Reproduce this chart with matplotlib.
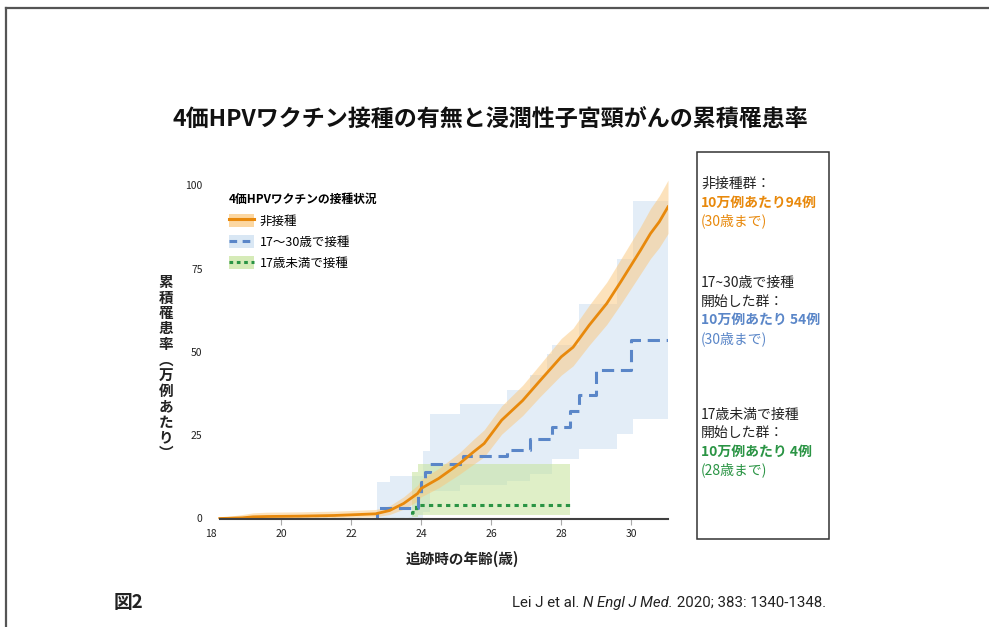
import matplotlib
matplotlib.use("Agg")
import matplotlib.pyplot as plt
from matplotlib.patches import Patch, Rectangle
from matplotlib.lines import Line2D
import numpy as np

plt.rcParams['font.family'] = ['Noto Sans CJK JP', 'DejaVu Sans']

# ---------------- data ----------------
title = "4価HPVワクチン接種の有無と浸潤性子宮頸がんの累積罹患率"
xlabel = "追跡時の年齢(歳)"
ylabel = "累積罹患率︵万例あたり︶"
xticks = [18, 20, 22, 24, 26, 28, 30]
yticks = [0, 25, 50, 75, 100]
legend_title = "4価HPVワクチンの接種状況"
legend_labels = ["非接種", "17〜30歳で接種", "17歳未満で接種"]

# non-vaccinated (orange)
orange_age = [18.25, 18.9, 19.2, 19.6, 20.5, 21.5, 22.0, 22.7, 23.1, 23.5, 23.9, 24.0,
              24.5, 25.1, 25.5, 25.8, 26.3, 26.9, 27.4, 28.0, 28.34, 28.8, 29.3, 29.7,
              30.26, 30.55, 30.8, 31.05]
orange_val = [0, 0.2, 0.5, 0.6, 0.7, 0.9, 1.1, 1.4, 2.4, 4.5, 7.5, 9,
              12, 16.5, 20, 22.5, 29.5, 35.4, 41.4, 48.5, 51.4, 58, 64.5, 71,
              80.4, 85.5, 89, 93.5]
orange_lo = [0, 0, 0.1, 0.1, 0.2, 0.3, 0.4, 0.5, 1.2, 2.8, 5.2, 6.5,
             9.2, 13.3, 16.3, 18.5, 25.3, 30.9, 36.6, 43, 45.8, 52, 58.2, 64.3,
             73.3, 78, 81.3, 85.5]
orange_hi = [0.3, 1.2, 1.7, 1.9, 2.0, 2.2, 2.4, 2.7, 3.8, 6.5, 10.0, 11.7,
             15.0, 19.8, 23.8, 26.6, 33.8, 40, 46.3, 54, 57.1, 64, 70.9, 77.8,
             87.5, 93, 96.8, 101.5]

# vaccinated at 17-30 (blue), step function
blue_age = [18.25, 22.75, 23.9, 24.0, 24.1, 24.25, 25.2, 26.46, 27.1, 27.75, 28.26, 28.5, 29.0, 30.0, 31.05]
blue_val = [0, 3.1, 7, 11, 14, 16.4, 18.9, 20.7, 23.9, 27.6, 32.2, 37.2, 44.6, 53.7, 53.7]
blue_ci_age = [22.75, 23.1, 24.05, 24.25, 25.1, 26.46, 27.1, 27.6, 27.75, 28.5, 29.6, 30.06, 31.05]
blue_ci_hi = [10.9, 12.9, 20.4, 31.4, 34.5, 38.5, 43, 49.5, 52, 64.5, 78, 95.4, 95.4]
blue_ci_lo = [0, 0, 2, 8.4, 10, 11.4, 13.5, 13.5, 18, 21, 25.5, 30, 30]

# vaccinated before 17 (green), step function
green_age = [18.25, 23.73, 23.85, 28.26]
green_val = [0, 2, 4, 4]
green_ci_age = [23.73, 23.9, 28.26]
green_ci_hi = [14, 16.5, 16.5]
green_ci_lo = [0.5, 1.0, 1.0]

box_lines = [
    ("非接種群：", "#222222", "normal"),
    ("10万例あたり94例", "#E8890C", "bold"),
    ("(30歳まで)", "#E8890C", "normal"),
    ("17~30歳で接種", "#222222", "normal"),
    ("開始した群：", "#222222", "normal"),
    ("10万例あたり 54例", "#5A86C8", "bold"),
    ("(30歳まで)", "#5A86C8", "normal"),
    ("17歳未満で接種", "#222222", "normal"),
    ("開始した群：", "#222222", "normal"),
    ("10万例あたり 4例", "#2A9444", "bold"),
    ("(28歳まで)", "#2A9444", "normal"),
]
box_line_y = [184, 203, 221, 283, 302, 320, 339, 415, 433, 452, 470]
fig_label = "図2"
cite_parts = [("Lei J et al. ", "normal"), ("N Engl J Med.", "italic"), (" 2020; 383: 1340-1348.", "normal")]

# ---------------- styles ----------------
C_OR, C_ORB = "#E8890C", "#FBC77A"
C_BL, C_BLB = "#5A86C8", "#C9DDF0"
C_GR, C_GRB = "#2A9444", "#C5E39A"

W, H = 989, 627
fig = plt.figure(figsize=(W / 100, H / 100), dpi=100)

def fx(px):
    return px / W

def fy(py):
    return 1 - py / H

# frame lines
fig.add_artist(Line2D([fx(6), fx(6)], [fy(8), 0], color="#555555", lw=1.6))
fig.add_artist(Line2D([fx(6), 1], [fy(8), fy(8)], color="#555555", lw=1.6))

x0, x1 = 18.0, 31.05
y0, y1 = 0.0, 103.0
ax_left, ax_right = 211, 668
ax_bot = 518.5
ax_top = ax_bot - (y1 - y0) * 3.333
ax = fig.add_axes([fx(ax_left), fy(ax_bot), fx(ax_right - ax_left), (ax_bot - ax_top) / H])
ax.set_xlim(x0, x1)
ax.set_ylim(y0, y1)

# bands
ax.fill_between(blue_ci_age, blue_ci_lo, blue_ci_hi, step="post", color=C_BLB, alpha=0.5, lw=0, zorder=1)
ax.fill_between(green_ci_age, green_ci_lo, green_ci_hi, step="post", color=C_GRB, alpha=0.55, lw=0, zorder=2)
ax.fill_between(orange_age, orange_lo, orange_hi, color=C_ORB, alpha=0.5, lw=0, zorder=3)

# lines
ax.step(green_age, green_val, where="post", color=C_GR, lw=2.2, dashes=(1.4, 1.4), zorder=4)
ax.step(blue_age, blue_val, where="post", color=C_BL, lw=2.2, dashes=(4, 2.2), zorder=5)
ax.plot(orange_age, orange_val, color=C_OR, lw=2.0, zorder=6)

for s in ["top", "right", "left"]:
    ax.spines[s].set_visible(False)
ax.spines["bottom"].set_bounds(orange_age[0], x1)
ax.spines["bottom"].set_color("#404040")
ax.spines["bottom"].set_linewidth(1.5)
ax.spines["bottom"].set_zorder(7)

ax.set_xticks(xticks)
ax.set_xticklabels([str(t) for t in xticks], fontsize=7.5, color="#222222")
ax.set_yticks(yticks)
ax.set_yticklabels([str(t) for t in yticks], fontsize=7.5, color="#222222")
ax.tick_params(axis="y", length=0, pad=6)
ax.tick_params(axis="x", length=4.5, width=0.8, color="#AAAAAA", pad=3)
ax.get_xticklines()[0].set_visible(False)
ax.get_xticklines()[1].set_visible(False)

# legend
handles = [
    (Patch(facecolor=C_ORB, alpha=0.7, lw=0), Line2D([], [], color=C_OR, lw=2.2)),
    (Patch(facecolor=C_BLB, alpha=0.7, lw=0), Line2D([], [], color=C_BL, lw=2.2, dashes=(2.5, 1.8))),
    (Patch(facecolor=C_GRB, alpha=0.7, lw=0), Line2D([], [], color=C_GR, lw=2.2, dashes=(1.2, 1.2))),
]
leg = ax.legend(handles, legend_labels, title=legend_title, loc="upper left",
                bbox_to_anchor=(fx(220), fy(184)), bbox_transform=fig.transFigure,
                frameon=False, fontsize=9, title_fontproperties={"size": 8.5, "weight": "bold"},
                handlelength=2.0, handleheight=1.2, handletextpad=0.5, labelspacing=0.6,
                alignment="left", borderpad=0.2)
leg._legend_box.sep = 6

# title
fig.text(fx(490), fy(120), title, ha="center", va="center", fontsize=16.6, fontweight="bold", color="#111111")

# x label
fig.text(fx(462), fy(559), xlabel, ha="center", va="center", fontsize=10.5, fontweight="bold", color="#222222")

# y label, vertical
ychars = list(ylabel)
ystart, ystep = 282, 15.5
for i, ch in enumerate(ychars):
    fig.text(fx(166), fy(ystart + i * ystep), ch, ha="center", va="center", fontsize=10.5,
             fontweight="bold", color="#222222")

# right box
fig.add_artist(Rectangle((fx(697), fy(539)), fx(829 - 697), (539 - 152) / H,
                         transform=fig.transFigure, fill=False, edgecolor="#333333", lw=1.1))
for (txt, col, wt), yy in zip(box_lines, box_line_y):
    fig.text(fx(701), fy(yy), txt, ha="left", va="center", fontsize=10, color=col, fontweight=wt)

# footer
fig.text(fx(114), fy(603), fig_label, ha="left", va="center", fontsize=13.5, fontweight="bold", color="#222222")
renderer = fig.canvas.get_renderer()
cx = fx(512)
for txt, style in cite_parts:
    t = fig.text(cx, fy(603), txt, ha="left", va="center", fontsize=10.8, style=style,
                 family=["Roboto", "DejaVu Sans"], color="#222222")
    bb = t.get_window_extent(renderer=renderer)
    cx += bb.width / W

fig.savefig("out.png", dpi=100)
